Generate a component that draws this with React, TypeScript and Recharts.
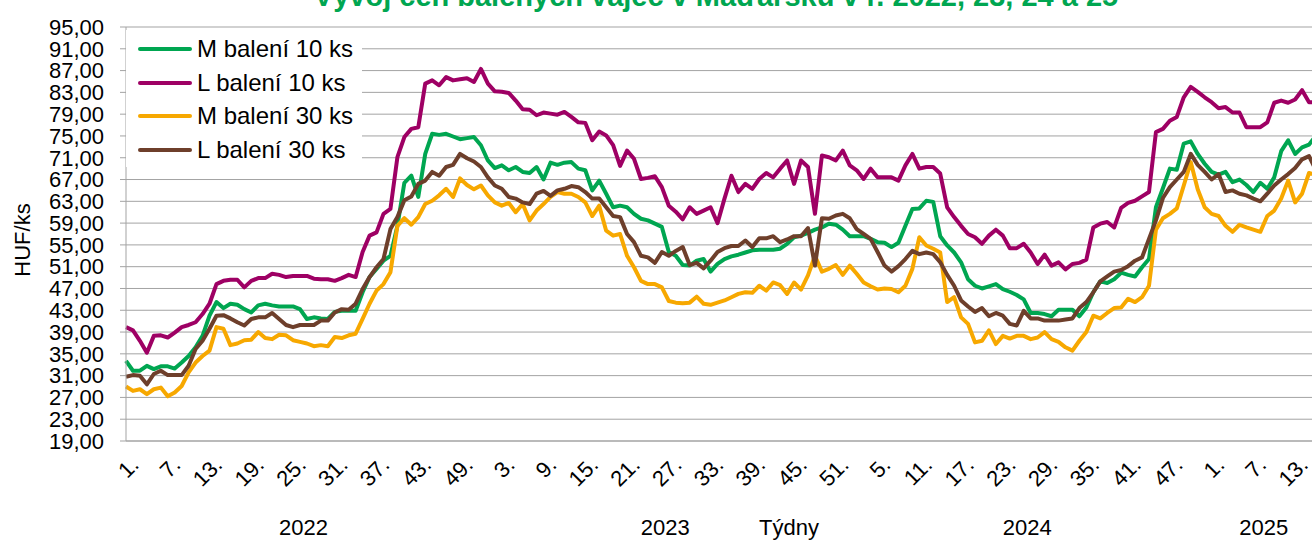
import React from 'react';
import { CartesianGrid, Legend, Line, LineChart, XAxis, YAxis } from 'recharts';

// years on the category axis and how many weeks each one shows
const years = [
	{ year: 2022, weeks: 52 },
	{ year: 2023, weeks: 52 },
	{ year: 2024, weeks: 52 },
	{ year: 2025, weeks: 16 },
];

// HUF/ks, one value per week
const mBaleni10 = [
	33.7, 31.9, 31.9, 32.8, 32.2, 32.7, 32.7, 32.3, 33.4, 34.6,
	36.2, 38.3, 42.0, 44.5, 43.4, 44.2, 44.0, 43.2, 42.6, 43.9,
	44.2, 43.9, 43.7, 43.7, 43.7, 43.2, 41.4, 41.7, 41.5, 41.4,
	42.7, 42.9, 42.9, 42.9, 46.3, 49.1, 50.6, 52.1, 53.0, 58.5,
	66.4, 67.7, 63.8, 71.7, 75.4, 75.2, 75.4, 74.9, 74.4, 74.6,
	74.8, 73.3, 70.5, 69.1, 69.6, 68.7, 69.3, 68.4, 68.2, 69.3,
	67.0, 70.1, 69.7, 70.1, 70.2, 69.0, 68.7, 65.0, 66.8, 64.4,
	61.9, 62.2, 61.9, 60.7, 59.8, 59.5, 58.9, 58.3, 53.7, 53.0,
	51.3, 51.2, 52.1, 52.4, 50.1, 51.5, 52.4, 52.9, 53.2, 53.6,
	54.0, 54.1, 54.1, 54.1, 54.3, 55.2, 56.4, 56.7, 57.2, 57.8,
	58.2, 58.9, 58.7, 57.8, 56.6, 56.6, 56.6, 56.1, 55.5, 55.4,
	54.6, 55.4, 58.5, 61.6, 61.7, 63.1, 62.9, 56.6, 54.9, 53.6,
	51.8, 48.7, 47.5, 47.0, 47.4, 47.8, 46.9, 46.4, 45.8, 45.0,
	42.5, 42.5, 42.3, 41.9, 43.1, 43.1, 43.1, 41.9, 43.5, 46.3,
	48.3, 48.0, 48.7, 49.9, 49.5, 49.2, 50.9, 52.4, 61.9, 65.4,
	69.0, 68.8, 73.6, 74.0, 71.7, 69.9, 68.4, 67.9, 68.4, 66.5,
	67.0, 66.0, 64.7, 66.4, 65.3, 67.4, 72.2, 74.2, 71.7, 72.9,
	73.4, 75.1,
];

const lBaleni10 = [
	39.9, 39.3, 37.4, 35.2, 38.3, 38.4, 38.0, 38.9, 39.9, 40.3,
	40.8, 42.3, 44.2, 47.8, 48.4, 48.6, 48.6, 47.2, 48.4, 48.9,
	48.9, 49.7, 49.5, 49.1, 49.3, 49.3, 49.3, 48.8, 48.7, 48.7,
	48.4, 48.9, 49.5, 49.1, 53.7, 56.7, 57.3, 60.7, 61.6, 71.1,
	74.8, 76.3, 76.6, 84.6, 85.2, 84.3, 85.8, 85.2, 85.4, 85.6,
	84.9, 87.3, 84.6, 83.2, 83.1, 82.9, 81.5, 79.9, 79.8, 78.8,
	79.3, 79.1, 78.9, 79.4, 78.5, 77.5, 77.4, 74.2, 75.8, 75.1,
	73.3, 69.5, 72.3, 70.8, 67.1, 67.3, 67.6, 65.6, 62.2, 61.1,
	59.7, 61.9, 60.7, 61.3, 61.9, 59.0, 63.5, 67.7, 64.7, 66.2,
	65.3, 67.1, 68.2, 67.4, 69.0, 70.5, 66.2, 70.5, 69.3, 60.7,
	71.4, 71.1, 70.5, 72.3, 69.6, 68.7, 67.1, 69.0, 67.4, 67.4,
	67.4, 66.8, 69.6, 71.7, 69.0, 69.3, 69.3, 68.1, 61.9, 60.1,
	58.5, 57.0, 56.4, 55.2, 56.7, 57.8, 56.7, 54.4, 54.4, 55.2,
	53.6, 51.5, 53.2, 51.2, 51.8, 50.5, 51.5, 51.7, 52.3, 58.2,
	58.9, 59.2, 58.2, 61.8, 62.7, 63.1, 63.9, 64.7, 75.7, 76.3,
	77.8, 78.5, 82.1, 84.0, 83.1, 82.1, 81.2, 80.1, 80.3, 79.3,
	79.3, 76.6, 76.6, 76.6, 77.5, 81.1, 81.5, 81.1, 81.7, 83.4,
	81.2, 81.2,
];

const mBaleni30 = [
	29.0, 28.2, 28.5, 27.6, 28.5, 28.8, 27.2, 27.9, 29.1, 31.6,
	33.4, 34.6, 35.6, 39.9, 39.6, 36.6, 36.9, 37.5, 37.6, 39.0,
	37.9, 37.7, 38.5, 38.4, 37.5, 37.2, 36.9, 36.4, 36.6, 36.4,
	38.1, 37.9, 38.4, 38.7, 41.4, 44.2, 46.6, 47.8, 50.0, 58.5,
	59.9, 58.7, 60.1, 62.5, 63.1, 64.1, 65.3, 63.8, 67.2, 66.0,
	65.2, 65.9, 64.1, 62.8, 62.2, 62.7, 61.0, 62.5, 59.5, 61.3,
	62.5, 63.8, 64.7, 64.4, 64.4, 63.8, 62.8, 60.3, 62.2, 57.6,
	56.7, 57.0, 53.0, 50.9, 48.4, 47.8, 47.8, 47.2, 44.7, 44.4,
	44.3, 44.4, 45.5, 44.2, 44.0, 44.4, 44.8, 45.4, 46.0, 46.3,
	46.2, 47.5, 46.6, 48.1, 47.6, 46.0, 48.1, 46.8, 49.4, 53.0,
	50.1, 50.6, 51.3, 49.5, 51.2, 49.7, 48.1, 47.4, 46.8, 47.0,
	46.9, 46.3, 47.5, 50.6, 56.4, 54.9, 54.3, 53.6, 44.5, 45.4,
	41.7, 40.5, 37.1, 37.4, 39.3, 36.8, 38.3, 37.8, 38.3, 38.3,
	37.7, 38.0, 39.0, 37.7, 37.2, 36.2, 35.6, 37.4, 39.0, 42.0,
	41.5, 42.5, 43.4, 43.5, 45.1, 44.5, 45.4, 47.5, 57.8, 59.9,
	60.7, 61.7, 65.9, 70.2, 65.2, 61.9, 60.7, 60.3, 58.5, 57.4,
	58.7, 58.2, 57.8, 57.4, 60.3, 61.3, 63.5, 66.8, 62.8, 64.4,
	68.2, 67.9,
];

const lBaleni30 = [
	30.8, 31.1, 31.0, 29.4, 31.3, 31.9, 31.1, 31.1, 31.1, 32.8,
	35.9, 37.4, 39.6, 42.0, 42.1, 41.5, 40.8, 40.2, 41.4, 41.7,
	41.7, 42.5, 41.4, 40.3, 39.9, 40.3, 40.3, 40.3, 41.1, 41.1,
	42.6, 43.2, 43.1, 44.2, 46.9, 49.1, 50.9, 52.4, 57.9, 60.1,
	63.2, 63.9, 66.2, 66.8, 68.4, 67.7, 69.3, 69.7, 71.7, 70.9,
	70.3, 69.3, 67.4, 65.9, 65.3, 63.8, 63.5, 62.8, 62.5, 64.4,
	64.9, 64.0, 65.0, 65.3, 65.8, 65.6, 64.7, 63.5, 63.5, 61.9,
	60.3, 60.1, 57.0, 55.5, 53.0, 52.7, 51.7, 53.7, 53.0, 53.9,
	54.6, 51.3, 51.7, 50.7, 52.1, 53.7, 54.4, 54.8, 54.8, 55.8,
	54.6, 56.2, 56.2, 56.6, 55.5, 56.0, 56.6, 56.6, 58.1, 51.2,
	59.9, 59.8, 60.4, 60.7, 59.9, 57.9, 57.0, 56.1, 53.7, 51.2,
	50.1, 51.1, 52.4, 53.9, 53.3, 53.6, 53.3, 51.8, 49.5, 47.5,
	44.8, 43.7, 42.7, 43.4, 41.9, 42.5, 42.0, 40.5, 40.2, 42.9,
	41.5, 41.5, 41.1, 41.1, 41.1, 41.3, 41.5, 43.4, 44.5, 46.3,
	48.3, 49.2, 50.1, 50.4, 51.1, 52.1, 52.7, 56.1, 59.5, 63.6,
	65.6, 67.0, 68.4, 71.7, 69.7, 68.4, 67.0, 68.0, 64.7, 65.0,
	64.4, 64.1, 63.5, 63.0, 64.4, 65.9, 67.0, 68.0, 69.1, 70.7,
	71.3, 68.7,
];

const yTicks = [19, 23, 27, 31, 35, 39, 43, 47, 51, 55, 59, 63, 67, 71, 75, 79, 83, 87, 91, 95];

const series = [
	{ key: 'm10', name: 'M balení 10 ks', color: '#00a651', values: mBaleni10 },
	{ key: 'l10', name: 'L balení 10 ks', color: '#9e0064', values: lBaleni10 },
	{ key: 'm30', name: 'M balení 30 ks', color: '#f7a800', values: mBaleni30 },
	{ key: 'l30', name: 'L balení 30 ks', color: '#6e3f2b', values: lBaleni30 },
];

const keys: string[] = [];
years.forEach(({ year, weeks }) => {
	for (let w = 1; w <= weeks; w++) keys.push(`${year}-${w}`);
});

const data = keys.map((key, i) => {
	const row: Record<string, number | string> = { key };
	series.forEach((s) => {
		row[s.key] = s.values[i];
	});
	return row;
});

// middle week of every year, the year label sits half a band left of it
const yearTicks = years.map(({ year, weeks }) => `${year}-${Math.floor(weeks / 2) + 1}`);

const FONT = '"Liberation Sans", Arial, sans-serif';
const CHART_W = 1330;
const CHART_H = 541;
const Y_AXIS_W = 126;
const MARGIN = { top: 27, right: 14, bottom: 0, left: 0 };
const BAND = (CHART_W - Y_AXIS_W - MARGIN.right) / keys.length;

function WeekTick({ x, y, payload }: any) {
	const label = `${String(payload.value).split('-')[1]}.`;
	const ax = x + 3;
	const ay = y + 14;
	return (
		<text
			x={ax}
			y={ay}
			dy="0.72em"
			textAnchor="end"
			transform={`rotate(-45 ${ax} ${ay})`}
			fontSize={22}
			fontFamily={FONT}
			fill="#000"
		>
			{label}
		</text>
	);
}

function YearTick({ x, y, payload }: any) {
	return (
		<text
			x={x - BAND / 2}
			y={y + 24}
			textAnchor="middle"
			dominantBaseline="central"
			fontSize={22}
			fontFamily={FONT}
			fill="#000"
		>
			{String(payload.value).split('-')[0]}
		</text>
	);
}

function renderLegend() {
	return (
		<div style={{ paddingTop: 2, fontFamily: FONT }}>
			{series.map((s) => (
				<div key={s.key} style={{ display: 'flex', alignItems: 'center', height: 33.7 }}>
					<span
						style={{
							display: 'inline-block',
							width: 54,
							height: 4,
							marginLeft: 12,
							borderRadius: 2,
							backgroundColor: s.color,
						}}
					/>
					<span style={{ marginLeft: 5, fontSize: 24, color: '#000', whiteSpace: 'nowrap' }}>{s.name}</span>
				</div>
			))}
		</div>
	);
}

export default function App() {
	return (
		<div
			style={{
				position: 'absolute',
				left: 0,
				top: 0,
				width: 1312,
				height: 541,
				overflow: 'hidden',
				background: '#fff',
			}}
		>
			<div
				style={{
					position: 'absolute',
					top: -18,
					left: 716,
					transform: 'translateX(-50%)',
					whiteSpace: 'nowrap',
					fontFamily: FONT,
					fontWeight: 'bold',
					fontSize: 29,
					lineHeight: '29px',
					color: '#00a651',
				}}
			>
				Vývoj cen balených vajec v Maďarsku v r. 2022, 23, 24 a 25
			</div>
			<LineChart width={CHART_W} height={CHART_H} data={data} margin={MARGIN}>
				<CartesianGrid vertical={false} stroke="#a3a3a3" />
				<XAxis
					dataKey="key"
					interval={5}
					height={62}
					tickLine={false}
					tickSize={0}
					tickMargin={0}
					axisLine={{ stroke: '#a3a3a3' }}
					tick={<WeekTick />}
				/>
				<XAxis
					xAxisId="year"
					dataKey="key"
					ticks={yearTicks}
					interval={0}
					height={38}
					tickLine={false}
					tickSize={0}
					tickMargin={0}
					axisLine={false}
					tick={<YearTick />}
					label={(p: any) => (
						<text
							x={p.viewBox.x + 663}
							y={p.viewBox.y + 24}
							textAnchor="middle"
							dominantBaseline="central"
							fontSize={22}
							fontFamily={FONT}
							fill="#000"
						>
							Týdny
						</text>
					)}
				/>
				<YAxis
					width={Y_AXIS_W}
					domain={[19, 95]}
					ticks={yTicks}
					interval={0}
					tickSize={6}
					tickMargin={16}
					tickLine={{ stroke: '#a3a3a3' }}
					axisLine={{ stroke: '#a3a3a3' }}
					tick={{ fill: '#000', fontSize: 22, fontFamily: FONT }}
					tickFormatter={(v: number) => v.toFixed(2).replace('.', ',')}
					label={(p: any) => (
						<text
							x={p.viewBox.x + 22}
							y={p.viewBox.y + p.viewBox.height / 2 + 6}
							transform={`rotate(-90 ${p.viewBox.x + 22} ${p.viewBox.y + p.viewBox.height / 2 + 6})`}
							textAnchor="middle"
							dominantBaseline="central"
							fontSize={22}
							fontFamily={FONT}
							fill="#000"
						>
							HUF/ks
						</text>
					)}
				/>
				<Legend
					layout="vertical"
					align="center"
					verticalAlign="middle"
					content={renderLegend}
					wrapperStyle={{ left: 126, top: 30, width: 236, height: 137, backgroundColor: '#fff' }}
				/>
				{series.map((s) => (
					<Line
						key={s.key}
						type="linear"
						dataKey={s.key}
						name={s.name}
						stroke={s.color}
						strokeWidth={4}
						strokeLinejoin="round"
						dot={false}
						activeDot={false}
						isAnimationActive={false}
					/>
				))}
			</LineChart>
		</div>
	);
}
